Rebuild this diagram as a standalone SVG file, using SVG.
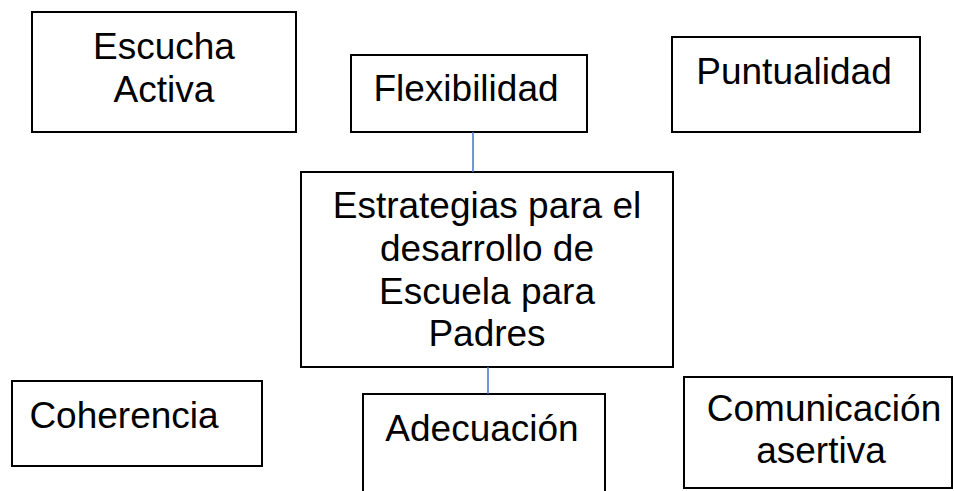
<svg xmlns="http://www.w3.org/2000/svg" width="954" height="491" viewBox="0 0 954 491">
<style>
.box{fill:#fff;stroke:#000;stroke-width:2}
.t{font-family:"Liberation Sans",Arial,sans-serif;font-size:37px;fill:#000;text-anchor:middle}
.c{stroke:#4472C4;stroke-width:1.5;fill:none}
</style>
<rect width="954" height="491" fill="#fff"/>
<g id="escucha"><rect class="box" x="32" y="12" width="264" height="120"/><text class="t" x="164" y="59">Escucha</text><text class="t" x="164" y="102">Activa</text></g>
<g id="flexibilidad"><rect class="box" x="351" y="55" width="236" height="77"/><text class="t" x="466" y="101">Flexibilidad</text></g>
<g id="puntualidad"><rect class="box" x="672" y="37" width="248" height="95"/><text class="t" x="794" y="84">Puntualidad</text></g>
<g id="estrategias"><rect class="box" x="301" y="172" width="372" height="195"/><text class="t" x="487" y="218">Estrategias para el</text><text class="t" x="487" y="261">desarrollo de</text><text class="t" x="487" y="304">Escuela para</text><text class="t" x="487" y="346">Padres</text></g>
<g id="coherencia"><rect class="box" x="12" y="381" width="250" height="85"/><text class="t" x="124" y="428">Coherencia</text></g>
<g id="adecuacion"><rect class="box" x="363" y="394" width="242" height="110"/><text class="t" x="482" y="441">Adecuación</text></g>
<g id="comunicacion"><rect class="box" x="684" y="377" width="268" height="111"/><text class="t" x="824" y="421">Comunicación</text><text class="t" x="821" y="463">asertiva</text></g>
<g id="connectors"><line class="c" x1="473" y1="132" x2="473" y2="172"/><line class="c" x1="488" y1="367" x2="488" y2="394"/></g>
</svg>
